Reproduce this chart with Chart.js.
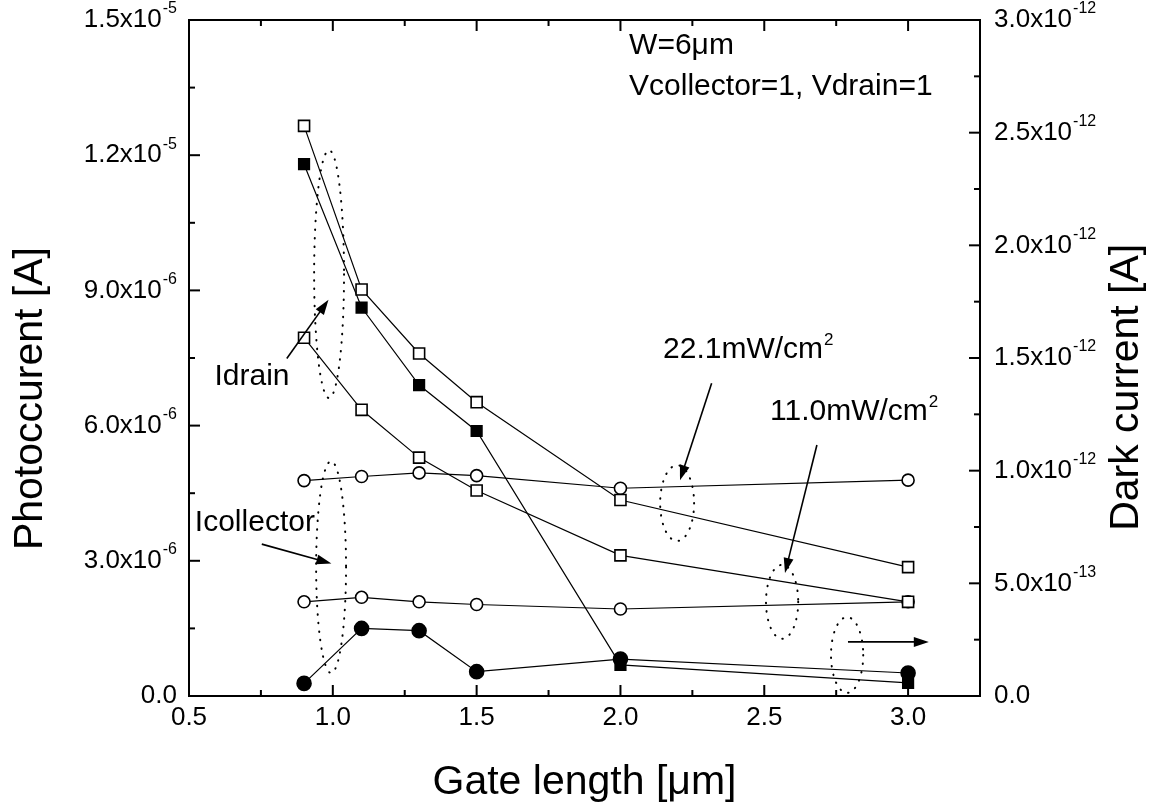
<!DOCTYPE html>
<html>
<head>
<meta charset="utf-8">
<title>Photocurrent vs gate length</title>
<script src="https://cdn.jsdelivr.net/npm/chart.js@4/dist/chart.umd.min.js"></script>
<style>
  body { margin: 0; background: #fff; }
  canvas { display: block; background: #fff; }
</style>
</head>
<body>
<canvas id="grafica" width="1152" height="810"></canvas>
<script>
const longitudes = [0.9, 1.1, 1.3, 1.5, 2.0, 3.0]

// fotocorriente [A] (eje izquierdo)
const idrain221 = [12.65e-6, 9.02e-6, 7.60e-6, 6.52e-6, 4.35e-6, 2.86e-6]
const idrain110 = [7.95e-6, 6.35e-6, 5.29e-6, 4.56e-6, 3.12e-6, 2.09e-6]
const icollector221 = [4.78e-6, 4.87e-6, 4.95e-6, 4.89e-6, 4.61e-6, 4.79e-6]
const icollector110 = [2.09e-6, 2.19e-6, 2.09e-6, 2.03e-6, 1.93e-6, 2.09e-6]

// corriente oscura [A] (eje derecho)
const idrainOscura = [2.36e-12, 1.724e-12, 1.38e-12, 1.176e-12, 0.138e-12, 0.058e-12]
const icollectorOscura = [0.056e-12, 0.30e-12, 0.29e-12, 0.108e-12, 0.164e-12, 0.102e-12]

// etiquetas: mantisa y exponente separados por "^"
const etiquetasX = ["0.5", "1.0", "1.5", "2.0", "2.5", "3.0"]
const etiquetasIzq = ["0.0", "3.0x10^-6", "6.0x10^-6", "9.0x10^-6", "1.2x10^-5", "1.5x10^-5"]
const etiquetasDer = ["0.0", "5.0x10^-13", "1.0x10^-12", "1.5x10^-12", "2.0x10^-12", "2.5x10^-12", "3.0x10^-12"]
const tituloIzquierdo = "Photoccurent [A]"
const tituloDerecho = "Dark current [A]"

// anotaciones, en unidades de los ejes x / izquierdo
const textos = [
  { texto: "W=6μm", x: 2.03, y: 14.44e-6, alinear: "left" },
  { texto: "Vcollector=1, Vdrain=1", x: 2.03, y: 13.51e-6, alinear: "left" },
  { texto: "Idrain", x: 0.719, y: 7.08e-6, alinear: "center" },
  { texto: "Icollector", x: 0.729, y: 3.84e-6, alinear: "center" },
  { texto: "22.1mW/cm", sup: "2", x: 2.148, y: 7.68e-6, alinear: "left" },
  { texto: "11.0mW/cm", sup: "2", x: 2.52, y: 6.30e-6, alinear: "left" }
]
const elipses = [
  { x: 0.987, y: 9.36e-6, rx: 0.052, ry: 2.75e-6 },
  { x: 0.994, y: 2.86e-6, rx: 0.052, ry: 2.35e-6 },
  { x: 2.197, y: 4.28e-6, rx: 0.059, ry: 0.84e-6 },
  { x: 2.562, y: 2.09e-6, rx: 0.056, ry: 0.82e-6 },
  { x: 2.788, y: 0.91e-6, rx: 0.056, ry: 0.84e-6 }
]
const flechas = [
  { x1: 0.840, y1: 7.49e-6, x2: 0.985, y2: 8.79e-6 },
  { x1: 0.753, y1: 3.37e-6, x2: 0.995, y2: 2.94e-6 },
  { x1: 2.317, y1: 6.94e-6, x2: 2.207, y2: 4.79e-6 },
  { x1: 2.683, y1: 5.57e-6, x2: 2.572, y2: 2.73e-6 },
  { x1: 2.791, y1: 1.20e-6, x2: 3.072, y2: 1.20e-6 }
]

const fuente = "'Liberation Sans', Arial, sans-serif"
Chart.defaults.font.family = fuente
Chart.defaults.color = "#000"

function serie(valores, eje, estilo, relleno, radio) {
  return {
    data: longitudes.map((x, i) => ({ x: x, y: valores[i] })),
    yAxisID: eje,
    showLine: true,
    borderColor: "#000",
    borderWidth: 1.2,
    pointStyle: estilo,
    pointRadius: radio,
    pointBackgroundColor: relleno,
    pointBorderColor: "#000",
    pointBorderWidth: 1.6,
    clip: false
  }
}

function pintarFlecha(ctx, x1, y1, x2, y2) {
  const ang = Math.atan2(y2 - y1, x2 - x1)
  const largo = 15, ancho = 5
  ctx.beginPath()
  ctx.moveTo(x1, y1)
  ctx.lineTo(x2 - Math.cos(ang) * largo * 0.8, y2 - Math.sin(ang) * largo * 0.8)
  ctx.stroke()
  ctx.beginPath()
  ctx.moveTo(x2, y2)
  ctx.lineTo(x2 - Math.cos(ang) * largo - Math.sin(ang) * ancho, y2 - Math.sin(ang) * largo + Math.cos(ang) * ancho)
  ctx.lineTo(x2 - Math.cos(ang) * largo + Math.sin(ang) * ancho, y2 - Math.sin(ang) * largo - Math.cos(ang) * ancho)
  ctx.closePath()
  ctx.fill()
}

// etiqueta con exponente: alinear "right" o "left" respecto de x
function pintarEtiqueta(ctx, etiqueta, x, y, alinear) {
  const partes = etiqueta.split("^")
  ctx.font = "26px " + fuente
  const anchoBase = ctx.measureText(partes[0]).width
  let anchoSup = 0
  if (partes[1]) {
    ctx.font = "16px " + fuente
    anchoSup = ctx.measureText(partes[1]).width + 1
  }
  const inicio = alinear === "right" ? x - anchoBase - anchoSup : x
  ctx.textAlign = "left"
  ctx.textBaseline = "middle"
  ctx.font = "26px " + fuente
  ctx.fillText(partes[0], inicio, y)
  if (partes[1]) {
    ctx.font = "16px " + fuente
    ctx.fillText(partes[1], inicio + anchoBase + 1, y - 11)
  }
}

function pintarTituloVertical(ctx, texto, x, y) {
  ctx.save()
  ctx.translate(x, y)
  ctx.rotate(-Math.PI / 2)
  ctx.font = "41px " + fuente
  ctx.textAlign = "center"
  ctx.textBaseline = "middle"
  ctx.fillText(texto, 0, 0)
  ctx.restore()
}

const decoraciones = {
  id: "decoraciones",
  afterDraw(chart) {
    const ctx = chart.ctx
    const area = chart.chartArea
    const ejeX = chart.scales.x
    const ejeY = chart.scales.y
    const ejeY2 = chart.scales.y2
    ctx.save()
    ctx.strokeStyle = "#000"
    ctx.fillStyle = "#000"

    // borde superior
    ctx.lineWidth = 2
    ctx.beginPath()
    ctx.moveTo(area.left - 1, area.top)
    ctx.lineTo(area.right + 1, area.top)
    ctx.stroke()

    // marcas hacia dentro y etiquetas
    const marcasX = ejeX.ticks.map(t => t.value)
    marcasX.forEach((v, i) => {
      const px = ejeX.getPixelForValue(v)
      ctx.beginPath()
      ctx.moveTo(px, area.bottom); ctx.lineTo(px, area.bottom - 11)
      ctx.moveTo(px, area.top); ctx.lineTo(px, area.top + 11)
      ctx.stroke()
      const pm = ejeX.getPixelForValue(v + 0.25)
      if (pm < area.right - 2) {
        ctx.beginPath()
        ctx.moveTo(pm, area.bottom); ctx.lineTo(pm, area.bottom - 6)
        ctx.moveTo(pm, area.top); ctx.lineTo(pm, area.top + 6)
        ctx.stroke()
      }
      ctx.font = "26px " + fuente
      ctx.textAlign = "center"
      ctx.textBaseline = "top"
      ctx.fillText(etiquetasX[i], px, area.bottom + 9)
    })
    const marcasY = ejeY.ticks.map(t => t.value)
    marcasY.forEach((v, i) => {
      const py = ejeY.getPixelForValue(v)
      ctx.beginPath(); ctx.moveTo(area.left, py); ctx.lineTo(area.left + 11, py); ctx.stroke()
      if (i < marcasY.length - 1) {
        const pm = ejeY.getPixelForValue((v + marcasY[i + 1]) / 2)
        ctx.beginPath(); ctx.moveTo(area.left, pm); ctx.lineTo(area.left + 6, pm); ctx.stroke()
      }
      pintarEtiqueta(ctx, etiquetasIzq[i], area.left - 12, py, "right")
    })
    const marcasY2 = ejeY2.ticks.map(t => t.value)
    marcasY2.forEach((v, i) => {
      const py = ejeY2.getPixelForValue(v)
      ctx.beginPath(); ctx.moveTo(area.right, py); ctx.lineTo(area.right - 11, py); ctx.stroke()
      if (i < marcasY2.length - 1) {
        const pm = ejeY2.getPixelForValue((v + marcasY2[i + 1]) / 2)
        ctx.beginPath(); ctx.moveTo(area.right, pm); ctx.lineTo(area.right - 6, pm); ctx.stroke()
      }
      pintarEtiqueta(ctx, etiquetasDer[i], area.right + 14, py, "left")
    })

    // titulos verticales, leídos de abajo arriba
    pintarTituloVertical(ctx, tituloIzquierdo, 31, ejeY.getPixelForValue(6.6e-6))
    pintarTituloVertical(ctx, tituloDerecho, 1127, ejeY.getPixelForValue(6.85e-6))

    // elipses punteadas
    ctx.lineWidth = 2
    ctx.lineCap = "round"
    ctx.setLineDash([0.5, 8])
    elipses.forEach(e => {
      const cx = ejeX.getPixelForValue(e.x)
      const cy = ejeY.getPixelForValue(e.y)
      const rx = Math.abs(ejeX.getPixelForValue(e.x + e.rx) - cx)
      const ry = Math.abs(ejeY.getPixelForValue(e.y + e.ry) - cy)
      ctx.beginPath()
      ctx.ellipse(cx, cy, rx, ry, 0, 0, Math.PI * 2)
      ctx.stroke()
    })
    ctx.setLineDash([])
    ctx.lineCap = "butt"

    // flechas
    ctx.lineWidth = 1.6
    flechas.forEach(f => {
      pintarFlecha(ctx,
        ejeX.getPixelForValue(f.x1), ejeY.getPixelForValue(f.y1),
        ejeX.getPixelForValue(f.x2), ejeY.getPixelForValue(f.y2))
    })

    // textos
    ctx.textBaseline = "middle"
    textos.forEach(t => {
      const px = ejeX.getPixelForValue(t.x)
      const py = ejeY.getPixelForValue(t.y)
      ctx.font = "30px " + fuente
      ctx.textAlign = t.alinear
      ctx.fillText(t.texto, px, py)
      if (t.sup) {
        const ancho = ctx.measureText(t.texto).width
        ctx.font = "17px " + fuente
        ctx.textAlign = "left"
        ctx.fillText(t.sup, px + ancho + 1, py - 10)
      }
    })
    ctx.restore()
  }
}

const configuracion = {
  type: "scatter",
  data: {
    datasets: [
      serie(idrain221, "y", "rect", "#fff", 7.8),
      serie(idrain110, "y", "rect", "#fff", 7.8),
      serie(icollector221, "y", "circle", "#fff", 6),
      serie(icollector110, "y", "circle", "#fff", 6),
      serie(idrainOscura, "y2", "rect", "#000", 7.5),
      serie(icollectorOscura, "y2", "circle", "#000", 7)
    ]
  },
  options: {
    responsive: false,
    animation: false,
    layout: { padding: { top: 20, left: 0, right: 0, bottom: 0 } },
    plugins: { legend: { display: false }, tooltip: { enabled: false } },
    scales: {
      x: {
        type: "linear",
        min: 0.5,
        max: 3.25,
        afterFit: function (eje) { eje.height = 114 },
        ticks: { display: false, stepSize: 0.5, includeBounds: false },
        grid: { drawOnChartArea: false, drawTicks: false },
        border: { color: "#000", width: 2 },
        title: {
          display: true,
          text: "Gate length [μm]",
          font: { size: 41 },
          padding: { top: 0, bottom: 3 }
        }
      },
      y: {
        position: "left",
        min: 0,
        max: 1.5e-5,
        afterFit: function (eje) { eje.width = 189 },
        ticks: { display: false, stepSize: 3e-6, includeBounds: false },
        grid: { drawOnChartArea: false, drawTicks: false },
        border: { color: "#000", width: 2 },
        title: { display: false }
      },
      y2: {
        position: "right",
        min: 0,
        max: 3e-12,
        afterFit: function (eje) { eje.width = 172 },
        ticks: { display: false, stepSize: 5e-13, includeBounds: false },
        grid: { drawOnChartArea: false, drawTicks: false },
        border: { color: "#000", width: 2 },
        title: { display: false }
      }
    }
  },
  plugins: [decoraciones]
}

new Chart(document.getElementById("grafica"), configuracion)
</script>
</body>
</html>
